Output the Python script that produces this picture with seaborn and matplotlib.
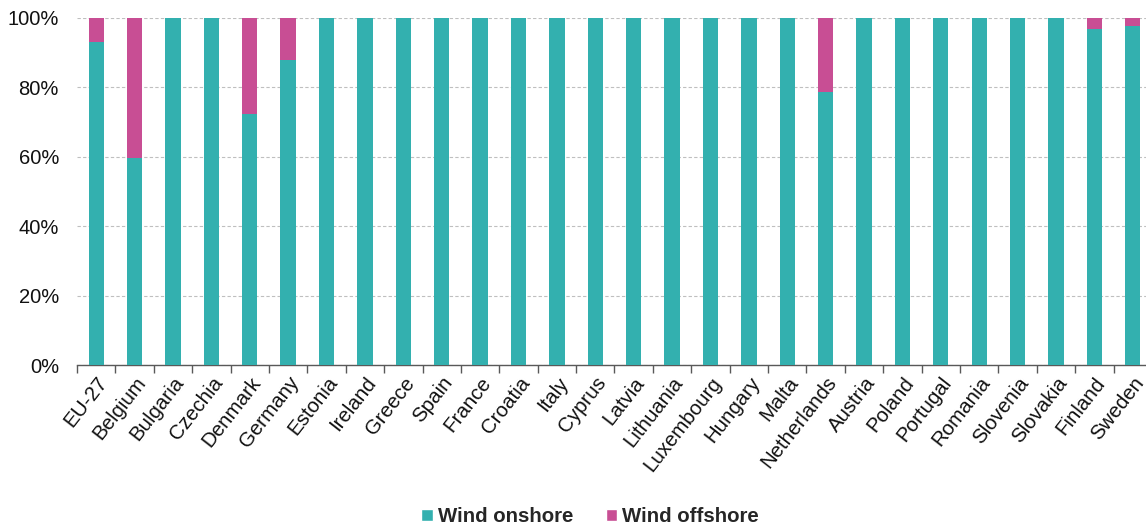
import matplotlib
matplotlib.use("Agg")
import matplotlib.pyplot as plt
from matplotlib.patches import Patch
from matplotlib.ticker import FixedLocator, PercentFormatter
import seaborn as sns
import pandas as pd
import numpy as np

countries = ["EU-27", "Belgium", "Bulgaria", "Czechia", "Denmark", "Germany", "Estonia",
             "Ireland", "Greece", "Spain", "France", "Croatia", "Italy", "Cyprus", "Latvia",
             "Lithuania", "Luxembourg", "Hungary", "Malta", "Netherlands", "Austria", "Poland",
             "Portugal", "Romania", "Slovenia", "Slovakia", "Finland", "Sweden"]
onshore = [93.0, 59.8, 100, 100, 72.2, 87.8, 100, 100, 100, 100, 100, 100, 100, 100, 100,
           100, 100, 100, 100, 78.8, 100, 100, 100, 100, 100, 100, 96.8, 97.8]
offshore = [100 - v for v in onshore]

teal = "#33B0AF"
magenta = "#C84E94"

sns.set_theme(style="white")
plt.rcParams["font.family"] = ["Liberation Sans", "DejaVu Sans"]

df = pd.DataFrame({"country": countries, "onshore": onshore, "offshore": offshore})
df["total"] = df["onshore"] + df["offshore"]

fig = plt.figure(figsize=(11.46, 5.26), dpi=100)
ax = fig.add_axes([0.0672, 0.306, 0.938, 0.6598])

# Full-height offshore bar behind, onshore share drawn on top
sns.barplot(data=df, x="country", y="total", color=magenta, width=0.4,
            saturation=1, linewidth=0, ax=ax, zorder=3)
sns.barplot(data=df, x="country", y="onshore", color=teal, width=0.4,
            saturation=1, linewidth=0, ax=ax, zorder=4)

ax.set_xlim(-0.5, len(countries) - 0.5)
ax.set_ylim(0, 100)
ax.yaxis.set_major_locator(FixedLocator([0, 20, 40, 60, 80, 100]))
ax.yaxis.set_major_formatter(PercentFormatter(decimals=0))
ax.grid(axis="y", color="#BFBFBF", linestyle=(0, (3, 2)), linewidth=0.8, zorder=0)
ax.set_xlabel("")
ax.set_ylabel("")

for side in ["top", "right", "left"]:
    ax.spines[side].set_visible(False)
ax.spines["bottom"].set_color("#595959")
ax.spines["bottom"].set_linewidth(1.0)

ax.tick_params(axis="y", length=0, labelsize=14.5, colors="#111111", pad=13)
ax.tick_params(axis="x", which="major", length=0, labelsize=14.8, colors="#111111", pad=6)
ax.set_xticks(np.arange(-0.5, len(countries), 1.0), minor=True)
ax.tick_params(axis="x", which="minor", length=6, width=1.0, color="#595959", bottom=True)
plt.setp(ax.get_xticklabels(), rotation=52, ha="right", rotation_mode="anchor")

handles = [Patch(facecolor=teal, label="Wind onshore"),
           Patch(facecolor=magenta, label="Wind offshore")]
fig.legend(handles=handles, loc="center", bbox_to_anchor=(0.515, 0.018), ncol=2,
           frameon=False, prop={"weight": "bold", "size": 14.7},
           handlelength=0.55, handleheight=0.55, handletextpad=0.25, columnspacing=1.6)

fig.savefig("out.png", dpi=100)
